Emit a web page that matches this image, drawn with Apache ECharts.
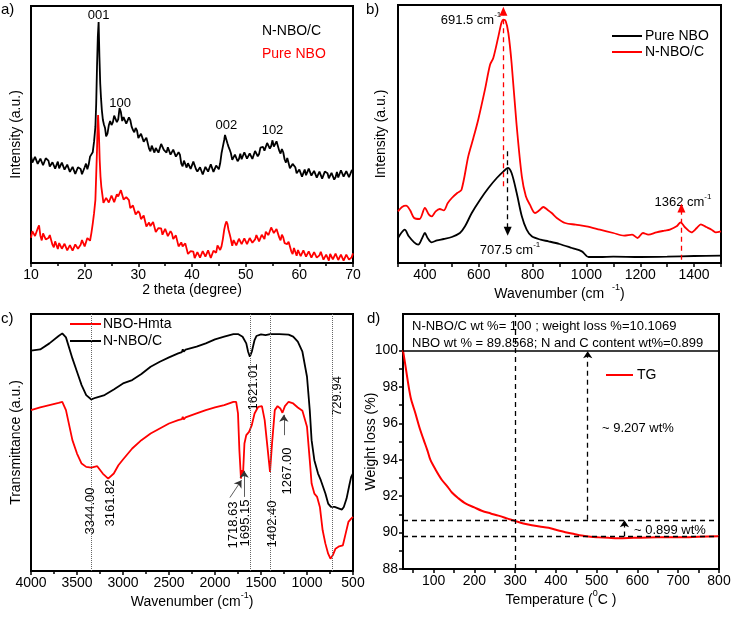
<!DOCTYPE html>
<html><head><meta charset="utf-8">
<script src="https://cdn.jsdelivr.net/npm/echarts@6/dist/echarts.min.js"></script>
<style>html,body{margin:0;padding:0;background:#fff}#c{width:735px;height:617px}</style>
</head><body><div id="c"></div>
<script>
const FONT = 'Liberation Sans, Arial, Helvetica, sans-serif';

// ---------- Panel a: XRD (arbitrary intensity units) ----------
const xrdNNBOC = [[10,322],[10.25,302],[10.5,300],[10.75,319],[11,314],[11.25,298],[11.5,293],[11.75,314],[12,314],[12.25,294],[12.5,299],[12.75,315],[13,317],[13.25,308],[13.5,290],[13.75,286],[14,303],[14.25,308],[14.5,284],[14.75,290],[15,305],[15.25,285],[15.5,285],[15.75,302],[16,302],[16.25,281],[16.5,277],[16.75,296],[17,291],[17.25,274],[17.5,268],[17.75,289],[18,289],[18.25,268],[18.5,272],[18.75,288],[19,290],[19.25,283],[19.5,267],[19.75,267],[20,288],[20.25,299],[20.5,282],[20.75,296],[21,320],[21.25,317],[21.5,333],[21.75,365],[22,410],[22.15,480],[22.3,590],[22.45,680],[22.6,725],[22.75,620],[22.9,540],[23.05,495],[23.2,460],[23.4,430],[23.6,416],[23.8,406],[24,381],[24.25,389],[24.5,414],[24.75,427],[25,415],[25.25,423],[25.5,443],[25.75,444],[26,424],[26.25,432],[26.5,466],[26.75,454],[27,427],[27.25,439],[27.5,442],[27.75,419],[28,418],[28.25,438],[28.5,430],[28.75,410],[29,400],[29.25,393],[29.5,406],[29.75,399],[30,376],[30.25,374],[30.5,389],[30.75,389],[31,365],[31.25,365],[31.5,377],[31.75,371],[32,344],[32.25,336],[32.5,353],[32.75,350],[33,332],[33.25,346],[33.5,352],[33.75,332],[34,333],[34.25,358],[34.5,355],[34.75,340],[35,335],[35.25,332],[35.5,348],[35.75,345],[36,326],[36.25,325],[36.5,341],[36.75,343],[37,320],[37.25,321],[37.5,333],[37.75,326],[38,299],[38.25,291],[38.5,308],[38.75,305],[39,287],[39.25,300],[39.5,305],[39.75,283],[40,283],[40.25,305],[40.5,299],[40.75,282],[41,275],[41.25,272],[41.5,288],[41.75,285],[42,266],[42.25,269],[42.5,289],[42.75,294],[43,275],[43.25,280],[43.5,297],[43.75,296],[44,274],[44.25,271],[44.5,293],[44.75,295],[45,282],[45.25,300],[45.5,330],[45.75,350],[46,370],[46.15,385],[46.3,390],[46.45,380],[46.6,360],[46.8,350],[47,342],[47.25,330],[47.5,310],[47.75,307],[48,326],[48.25,330],[48.5,306],[48.75,313],[49,329],[49.25,312],[49.5,315],[49.75,333],[50,335],[50.25,314],[50.5,310],[50.75,330],[51,325],[51.25,313],[51.5,313],[51.75,337],[52,340],[52.25,321],[52.5,328],[52.75,347],[53,352],[53.25,349],[53.5,338],[53.75,339],[54,361],[54.25,367],[54.5,344],[54.75,352],[55,369],[55.25,350],[55.5,350],[55.75,366],[56,365],[56.25,338],[56.5,329],[56.75,343],[57,333],[57.25,312],[57.5,302],[57.75,316],[58,310],[58.25,285],[58.5,285],[58.75,298],[59,297],[59.25,288],[59.5,270],[59.75,265],[60,281],[60.25,285],[60.5,260],[60.75,266],[61,281],[61.25,264],[61.5,266],[61.75,284],[62,285],[62.25,263],[62.5,258],[62.75,277],[63,271],[63.25,257],[63.5,254],[63.75,275],[64,275],[64.25,254],[64.5,258],[64.75,275],[65,277],[65.25,270],[65.5,255],[65.75,252],[66,271],[66.25,275],[66.5,251],[66.75,258],[67,274],[67.25,257],[67.5,260],[67.75,279],[68,281],[68.25,260],[68.5,256],[68.75,276],[69,271],[69.25,258],[69.5,256],[69.75,278],[70,280]];
const xrdPure = [[10,76],[10.25,96],[10.5,99],[10.75,81],[11,84],[11.25,104],[11.5,113],[11.75,82],[12,68],[12.25,89],[12.5,85],[12.75,71],[13,71],[13.25,75],[13.5,84],[13.75,80],[14,55],[14.25,47],[14.5,65],[14.75,60],[15,42],[15.25,60],[15.5,60],[15.75,43],[16,41],[16.25,58],[16.5,59],[16.75,38],[17,39],[17.25,54],[17.5,58],[17.75,37],[18,33],[18.25,56],[18.5,54],[18.75,43],[19,46],[19.25,55],[19.5,69],[19.75,70],[20,50],[20.25,50],[20.5,75],[20.75,77],[21,67],[21.25,90],[21.5,118],[21.75,150],[22,190],[22.15,265],[22.3,340],[22.4,410],[22.5,445],[22.65,390],[22.8,310],[22.95,260],[23.1,230],[23.3,205],[23.5,181],[23.75,177],[24,196],[24.25,194],[24.5,182],[24.75,184],[25,203],[25.25,205],[25.5,183],[25.75,188],[26,207],[26.25,200],[26.5,199],[26.75,219],[27,219],[27.25,191],[27.5,188],[27.75,198],[28,195],[28.25,189],[28.5,165],[28.75,161],[29,173],[29.25,168],[29.5,146],[29.75,140],[30,156],[30.25,149],[30.5,132],[30.75,129],[31,143],[31.25,139],[31.5,110],[31.75,109],[32,122],[32.25,111],[32.5,106],[32.75,123],[33,119],[33.25,93],[33.5,92],[33.75,105],[34,105],[34.25,104],[34.5,85],[34.75,86],[35,103],[35.25,100],[35.5,81],[35.75,78],[36,96],[36.25,89],[36.5,72],[36.75,69],[37,83],[37.25,79],[37.5,50],[37.75,49],[38,62],[38.25,50],[38.5,44],[38.75,59],[39,54],[39.25,27],[39.5,25],[39.75,36],[40,35],[40.25,34],[40.5,15],[40.75,16],[41,33],[41.25,33],[41.5,16],[41.75,15],[42,36],[42.25,33],[42.5,19],[42.75,20],[43,38],[43.25,39],[43.5,15],[43.75,19],[44,37],[44.25,31],[44.5,31],[44.75,53],[45,54],[45.25,39],[45.5,50],[45.75,72],[46,100],[46.2,115],[46.4,125],[46.6,118],[46.8,100],[47,88],[47.2,75],[47.35,62],[47.5,52],[47.75,69],[48,68],[48.25,53],[48.5,53],[48.75,73],[49,76],[49.25,57],[49.5,59],[49.75,74],[50,78],[50.25,57],[50.5,53],[50.75,75],[51,72],[51.25,61],[51.5,64],[51.75,71],[52,84],[52.25,85],[52.5,65],[52.75,62],[53,85],[53.25,85],[53.5,72],[53.75,94],[54,98],[54.25,84],[54.5,86],[54.75,107],[55,111],[55.25,90],[55.5,91],[55.75,102],[56,103],[56.25,77],[56.5,68],[56.75,85],[57,77],[57.25,60],[57.5,56],[57.75,57],[58,64],[58.25,60],[58.5,35],[58.75,27],[59,45],[59.25,40],[59.5,22],[59.75,39],[60,38],[60.25,21],[60.5,20],[60.75,38],[61,39],[61.25,19],[61.5,21],[61.75,35],[62,38],[62.25,16],[62.5,12],[62.75,33],[63,29],[63.25,16],[63.5,17],[63.75,23],[64,34],[64.25,32],[64.5,10],[64.75,5],[65,25],[65.25,22],[65.5,7],[65.75,27],[66,28],[66.25,11],[66.5,10],[66.75,28],[67,29],[67.25,9],[67.5,11],[67.75,25],[68,29],[68.25,7],[68.5,3],[68.75,25],[69,22],[69.25,10],[69.5,11],[69.75,17],[70,29]];
const xrdPeakLabels = [['001',22.6,745],['100',26.6,480],['002',46.4,415],['102',55,398]];

// ---------- Panel b: Raman ----------
const ramanPure = [[300,75],[312,90],[325,100],[340,80],[360,62],[375,55],[390,75],[400,90],[410,75],[425,62],[445,68],[470,72],[500,78],[530,90],[549,110],[574,150],[605,190],[636,225],[667,255],[692,275],[708,285],[722,270],[741,210],[760,140],[778,100],[797,80],[830,70],[859,65],[900,57],[946,45],[983,35],[1008,18],[1050,18],[1100,19],[1200,18],[1300,19],[1400,21],[1500,22]];
const ramanNNBOC = [[300,155],[315,168],[330,172],[345,158],[360,135],[380,132],[400,165],[415,145],[425,140],[440,155],[455,162],[470,158],[485,180],[500,195],[520,210],[536,220],[561,320],[580,375],[598,430],[623,520],[642,595],[654,615],[673,680],[685,722],[692,730],[700,726],[710,690],[722,600],[740,420],[760,260],[775,200],[790,175],[809,150],[825,158],[840,168],[855,160],[871,150],[890,135],[921,120],[960,115],[1000,110],[1050,100],[1100,90],[1140,82],[1170,85],[1190,75],[1210,90],[1230,85],[1260,92],[1290,97],[1310,100],[1335,110],[1350,122],[1365,108],[1390,92],[1410,105],[1425,116],[1445,108],[1465,100],[1480,92],[1500,95]];
const ramanMarks = [{x:691.5,from:230,to:755,color:'#ff0000'},{x:707.5,from:335,to:95,color:'#000000'},{x:1353,from:10,to:165,color:'#ff0000'}];

// ---------- Panel c: FTIR ----------
const ftirNNBOC = [[4000,660],[3900,664],[3800,682],[3700,704],[3660,712],[3620,700],[3550,637],[3500,597],[3450,557],[3400,527],[3344,514],[3300,519],[3200,527],[3100,544],[3000,562],[2900,572],[2800,590],[2700,612],[2600,627],[2500,640],[2400,652],[2360,656],[2350,664],[2340,657],[2330,659],[2320,663],[2300,662],[2200,672],[2100,682],[2000,694],[1900,702],[1800,710],[1750,710],[1700,702],[1660,682],[1640,657],[1621,642],[1600,657],[1570,692],[1550,704],[1500,709],[1450,707],[1430,712],[1400,710],[1300,710],[1200,708],[1150,702],[1100,687],[1050,657],[1000,582],[970,482],[950,392],[920,332],[880,292],[850,272],[800,232],[770,202],[740,192],[700,192],[650,187],[620,184],[600,192],[570,217],[540,257],[520,282],[500,292]];
const ftirHmta = [[4000,482],[3900,490],[3800,497],[3700,504],[3660,507],[3620,482],[3550,392],[3500,352],[3450,322],[3400,312],[3344,310],[3280,314],[3220,292],[3161,277],[3100,292],[3050,317],[3000,334],[2900,367],[2800,392],[2700,412],[2600,427],[2500,442],[2400,452],[2360,455],[2350,462],[2340,454],[2330,456],[2320,460],[2300,460],[2200,472],[2100,482],[2000,490],[1900,497],[1800,507],[1770,507],[1750,472],[1735,362],[1718,277],[1705,302],[1695,292],[1680,382],[1660,407],[1630,417],[1600,437],[1570,472],[1530,492],[1490,494],[1460,452],[1430,372],[1402,297],[1380,382],[1350,482],[1320,494],[1290,487],[1267,474],[1240,494],[1200,507],[1150,502],[1100,490],[1050,480],[1000,432],[970,332],[950,262],[920,232],[890,222],[860,192],[830,122],[800,82],[770,52],[745,37],[720,47],[690,67],[650,74],[610,77],[580,112],[550,147],[520,157],[500,162]];
const ftirLines = [3344.00, 1621.01, 1402.40, 729.94];
const ftirLabels = ['3344.00','3161.82','1718.63','1695.15','1621.01','1402.40','1267.00','729.94'];
const ftirArrows = [[[1838,220],[1712,272]],[[1683,222],[1683,300]],[[1252,407],[1252,468]]];

// ---------- Panel d: TG ----------
const tgX = [25,30,38.7,45,55,65,75.5,85,92,105,120,135,145,160,178,200,218,240,259,280,302,320,341,360,382,400,423,445,463,485,504,530,553,590,627,670,708,750,800];
const tgY = [100,99.3,98.04,97.3,96.58,95.8,95.1,94.5,94.0,93.45,92.9,92.5,92.2,91.9,91.6,91.38,91.2,91.05,90.93,90.78,90.62,90.5,90.4,90.33,90.26,90.15,90.02,89.92,89.84,89.77,89.74,89.71,89.69,89.71,89.73,89.74,89.74,89.77,89.8];
const tgLevels = {top:100, mid:90.7, low:89.78, temp:300, arrow1:478, arrow2:568};
const tgXTicks = [100,200,300,400,500,600,700,800];
const tgYTicks = [88,90,92,94,96,98,100];

// ---------- helpers ----------
const AX = {lineStyle:{color:'#000',width:2}};
function tickStyle(len){return {show:true,inside:false,length:len,lineStyle:{color:'#000',width:1.5}};}
const plain = v=>String(v);
const labelStyle = {color:'#000',fontFamily:FONT,fontSize:14,margin:5,formatter:plain};
const nameStyle = {color:'#000',fontFamily:FONT,fontSize:14,
  rich:{n:{fontFamily:FONT,fontSize:14,color:'#000',verticalAlign:'bottom',lineHeight:18},
        s:{fontFamily:FONT,fontSize:9,color:'#000',verticalAlign:'top',lineHeight:18}}};
const richT = (size)=>({n:{fontFamily:FONT,fontSize:size,fill:'#000',color:'#000',verticalAlign:'bottom',lineHeight:size+3},
  s:{fontFamily:FONT,fontSize:Math.round(size*0.65),verticalAlign:'top',lineHeight:size+3}});

const dashed = (c)=>({color:c,type:[5,4],width:1.3});

const series = [
  {type:'line',name:'a-N-NBO/C',xAxisIndex:0,yAxisIndex:0,data:xrdNNBOC,symbol:'none',lineStyle:{color:'#000',width:1.8},itemStyle:{color:'#000'},z:3,
   markPoint:{symbol:'circle',symbolSize:0,silent:true,data:xrdPeakLabels.map(p=>({coord:[p[1],p[2]],label:{show:true,formatter:p[0],color:'#000',fontFamily:FONT,fontSize:13,position:'inside'}}))}},
  {type:'line',name:'a-Pure NBO',xAxisIndex:0,yAxisIndex:0,data:xrdPure,symbol:'none',lineStyle:{color:'#ff0000',width:1.8},itemStyle:{color:'#ff0000'},z:2},
  {type:'line',name:'b-Pure NBO',xAxisIndex:1,yAxisIndex:1,data:ramanPure,symbol:'none',smooth:0.3,lineStyle:{color:'#000',width:1.8},itemStyle:{color:'#000'},
   markLine:{silent:true,animation:false,label:{show:false},symbolSize:[8,9],
     data:ramanMarks.map(m=>[{coord:[m.x,m.from],symbol:'none',lineStyle:dashed(m.color)},{coord:[m.x,m.to],symbol:'triangle',symbolRotate:m.to>m.from?0:180,itemStyle:{color:m.color}}])}},
  {type:'line',name:'b-N-NBO/C',xAxisIndex:1,yAxisIndex:1,data:ramanNNBOC,symbol:'none',smooth:0.3,lineStyle:{color:'#ff0000',width:1.8},itemStyle:{color:'#ff0000'}},
  {type:'line',name:'c-NBO-Hmta',xAxisIndex:2,yAxisIndex:2,data:ftirHmta,symbol:'none',lineStyle:{color:'#ff0000',width:1.8},itemStyle:{color:'#ff0000'},
   markLine:{silent:true,animation:false,label:{show:false},symbol:['none','arrow'],symbolSize:7,
     data:ftirArrows.map(a=>[{coord:a[0],lineStyle:{color:'#333',width:0.8,type:'solid'}},{coord:a[1],itemStyle:{color:'#000'}}])}},
  {type:'line',name:'c-N-NBO/C',xAxisIndex:2,yAxisIndex:2,data:ftirNNBOC,symbol:'none',lineStyle:{color:'#000',width:1.8},itemStyle:{color:'#000'},
   markLine:{silent:true,animation:false,label:{show:false},symbol:['none','none'],
     data:ftirLines.map(v=>({xAxis:v,lineStyle:{color:'#666',type:'dotted',width:1}}))}},
  {type:'line',name:'d-TG',xAxisIndex:3,yAxisIndex:3,data:tgX.map((x,i)=>[x,tgY[i]]),symbol:'none',smooth:0.3,lineStyle:{color:'#ff0000',width:2},itemStyle:{color:'#ff0000'},z:3,
   markLine:{silent:true,animation:false,label:{show:false},symbol:['none','none'],symbolSize:7,
     data:[
       {yAxis:tgLevels.top,lineStyle:{color:'#000',type:'solid',width:1.5}},
       {yAxis:tgLevels.mid,lineStyle:dashed('#000')},
       {yAxis:tgLevels.low,lineStyle:dashed('#000')},
       {xAxis:tgLevels.temp,lineStyle:dashed('#000')},
       [{coord:[tgLevels.arrow1,tgLevels.mid],symbol:'none',lineStyle:dashed('#000')},{coord:[tgLevels.arrow1,tgLevels.top-0.05],symbol:'arrow',itemStyle:{color:'#000'}}],
       [{coord:[tgLevels.arrow2,tgLevels.low],symbol:'none',lineStyle:dashed('#000')},{coord:[tgLevels.arrow2,tgLevels.mid-0.03],symbol:'arrow',itemStyle:{color:'#000'}}]
     ]}}
];

const grid = [
  {left:31,top:6,width:322,height:257},
  {left:398,top:5,width:323,height:258},
  {left:31,top:314,width:322,height:257},
  {left:403,top:314,width:316,height:255}
].map(g=>Object.assign(g,{show:true,borderColor:'#000',borderWidth:2,backgroundColor:'transparent'}));

const xAxis = [
  {gridIndex:0,type:'value',min:10,max:70,interval:10,axisLine:AX,axisTick:tickStyle(4),minorTick:{show:true,splitNumber:2,length:3,lineStyle:{color:'#000',width:1.5}},splitLine:{show:false},axisLabel:labelStyle,
   name:'2 theta (degree)',nameLocation:'middle',nameGap:20,nameTextStyle:nameStyle},
  {gridIndex:1,type:'value',min:300,max:1500,interval:100,axisLine:AX,axisTick:tickStyle(4),splitLine:{show:false},
   axisLabel:Object.assign({},labelStyle,{formatter:v=>(v%200===0?String(v):'')}),
   name:'{n|Wavenumber (cm  }{s|-1}{n|)}',nameLocation:'middle',nameGap:18,nameTextStyle:nameStyle},
  {gridIndex:2,type:'value',min:500,max:4000,interval:500,inverse:true,axisLine:AX,axisTick:tickStyle(4),minorTick:{show:true,splitNumber:2,length:3,lineStyle:{color:'#000',width:1.5}},splitLine:{show:false},axisLabel:labelStyle,
   name:'{n|Wavenumber (cm}{s|-1}{n|)}',nameLocation:'middle',nameGap:20,nameTextStyle:nameStyle},
  {gridIndex:3,type:'value',min:25,max:800,axisLine:AX,axisTick:Object.assign(tickStyle(4),{customValues:[50,100,150,200,250,300,350,400,450,500,550,600,650,700,750,800]}),splitLine:{show:false},
   axisLabel:Object.assign({},labelStyle,{customValues:tgXTicks}),
   name:'{n|Temperature (}{s|0}{n|C )}',nameLocation:'middle',nameGap:20,nameTextStyle:nameStyle}
];
const yAxis = [
  {gridIndex:0,type:'value',min:0,max:773,axisLine:AX,axisTick:{show:false},axisLabel:{show:false},splitLine:{show:false},
   name:'Intensity (a.u.)',nameLocation:'middle',nameGap:8,nameTextStyle:nameStyle},
  {gridIndex:1,type:'value',min:0,max:774,axisLine:AX,axisTick:{show:false},axisLabel:{show:false},splitLine:{show:false},
   name:'Intensity (a.u.)',nameLocation:'middle',nameGap:10,nameTextStyle:nameStyle},
  {gridIndex:2,type:'value',min:0,max:770,axisLine:AX,axisTick:{show:false},axisLabel:{show:false},splitLine:{show:false},
   name:'Transmittance (a.u.)',nameLocation:'middle',nameGap:8,nameTextStyle:nameStyle},
  {gridIndex:3,type:'value',min:88,max:102,axisLine:AX,axisTick:Object.assign(tickStyle(4),{customValues:[88,89,90,91,92,93,94,95,96,97,98,99,100]}),splitLine:{show:false},
   axisLabel:Object.assign({},labelStyle,{customValues:tgYTicks}),
   name:'Weight loss (%)',nameLocation:'middle',nameGap:25,nameMoveOverlap:false,nameTextStyle:nameStyle}
];

function txt(x,y,text,opts){
  return {type:'text',x:x,y:y,silent:true,style:Object.assign({text:text,fill:'#000',font:'14px '+FONT,align:'left',verticalAlign:'middle'},opts||{})};
}
function rtxt(x,y,text,size,align){
  return {type:'text',x:x,y:y,silent:true,style:{text:text,fill:'#000',fontFamily:FONT,fontSize:size,align:align||'center',verticalAlign:'middle',rich:richT(size)}};
}
function lineG(x1,x2,y,c){return {type:'line',silent:true,shape:{x1:x1,y1:y,x2:x2,y2:y},style:{stroke:c,lineWidth:2}};}
function vtxt(x,y,text){return {type:'text',x:x,y:y,rotation:Math.PI/2,silent:true,style:{text:text,fill:'#000',font:'13px '+FONT,align:'center',verticalAlign:'middle'}};}

const graphic = [
  txt(1,10,'a)',{font:'15px '+FONT}),
  txt(366,10,'b)',{font:'15px '+FONT}),
  txt(1,319,'c)',{font:'15px '+FONT}),
  txt(367,319,'d)',{font:'15px '+FONT}),
  txt(262,31,'N-NBO/C'),
  txt(262,54,'Pure NBO',{fill:'#ff0000'}),
  lineG(612,642,36,'#000'), txt(645,36,'Pure NBO'),
  lineG(612,642,52,'#ff0000'), txt(645,52,'N-NBO/C'),
  rtxt(471,19,'{n|691.5 cm}{s|-1}',13),
  rtxt(510,249,'{n|707.5 cm}{s|-1}',13),
  rtxt(683,201,'{n|1362 cm}{s|-1}',13),
  lineG(70,101,324,'#ff0000'), txt(103,324,'NBO-Hmta'),
  lineG(70,101,341,'#000'), txt(103,341,'N-NBO/C'),
  vtxt(90,511,ftirLabels[0]), vtxt(110,503,ftirLabels[1]), vtxt(233,525,ftirLabels[2]), vtxt(245,523,ftirLabels[3]),
  vtxt(253,387,ftirLabels[4]), vtxt(272,524,ftirLabels[5]), vtxt(287,471,ftirLabels[6]), vtxt(337,396,ftirLabels[7]),
  txt(412,326,'N-NBO/C wt %= 100 ; weight loss %=10.1069',{font:'13px '+FONT}),
  txt(412,343,'NBO wt % = 89.8568; N and C content wt%=0.899',{font:'13px '+FONT}),
  lineG(606,633,375,'#ff0000'), txt(637,375,'TG'),
  txt(602,428,'~ 9.207 wt%',{font:'13px '+FONT}),
  txt(634,530,'~ 0.899 wt%',{font:'13px '+FONT})
];

const chart = echarts.init(document.getElementById('c'),null,{renderer:'canvas'});
chart.setOption({animation:false,backgroundColor:'#fff',textStyle:{fontFamily:FONT},grid,xAxis,yAxis,series,graphic});
</script></body></html>
